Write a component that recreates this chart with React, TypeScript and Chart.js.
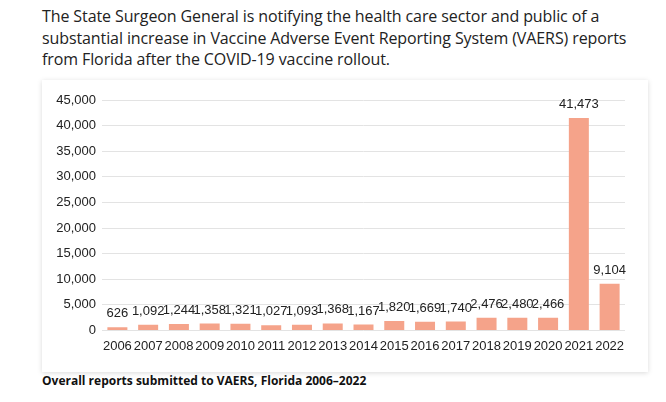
import React, { useEffect, useRef } from "react";
import { Chart, registerables } from "chart.js";

Chart.register(...registerables);

const years = ["2006","2007","2008","2009","2010","2011","2012","2013","2014","2015","2016","2017","2018","2019","2020","2021","2022"];
const reports = [626,1092,1244,1358,1321,1027,1093,1368,1167,1820,1669,1740,2476,2480,2466,41473,9104];
const yTicks = [0,5000,10000,15000,20000,25000,30000,35000,40000,45000];

const fmt = (v: number) => v.toLocaleString("en-US");

const labelPlugin = {
  id: "valueLabels",
  afterDatasetsDraw(chart: any) {
    const ctx = chart.ctx;
    const meta = chart.getDatasetMeta(0);
    ctx.save();
    ctx.font = '13px "Liberation Sans", Arial, sans-serif';
    ctx.fillStyle = "#222";
    ctx.textAlign = "center";
    ctx.textBaseline = "bottom";
    meta.data.forEach((el: any, i: number) => {
      ctx.fillText(fmt(reports[i]), el.x, el.y - 7);
    });
    ctx.restore();
  },
};

export default function App() {
  const ref = useRef<HTMLCanvasElement>(null);
  useEffect(() => {
    if (!ref.current) return;
    const chart = new Chart(ref.current, {
      type: "bar",
      data: {
        labels: years,
        datasets: [{ data: reports, backgroundColor: "#F5A38A", barPercentage: 0.65, categoryPercentage: 1 }],
      },
      options: {
        animation: false,
        responsive: false,
        maintainAspectRatio: false,
        layout: { padding: { left: 0, right: 23, top: 20, bottom: 10 } },
        plugins: { legend: { display: false }, tooltip: { enabled: false } },
        scales: {
          x: {
            grid: { display: false, drawTicks: false },
            border: { display: false },
            ticks: { color: "#222", font: { family: '"Liberation Sans", Arial, sans-serif', size: 13 }, padding: 8, maxRotation: 0, autoSkip: false },
          },
          y: {
            min: 0,
            max: 45000,
            afterBuildTicks: (s: any) => { s.ticks = yTicks.map((v) => ({ value: v })); },
            afterFit: (s: any) => { s.width = 60; },
            grid: { color: "#e3e3e3", drawTicks: false, lineWidth: 1 },
            border: { display: false },
            ticks: { color: "#222", font: { family: '"Liberation Sans", Arial, sans-serif', size: 13 }, padding: 6, callback: (v: any) => fmt(Number(v)) },
          },
        },
      },
      plugins: [labelPlugin],
    });
    return () => chart.destroy();
  }, []);

  return (
    <div style={{ position: "fixed", left: 0, top: 0, width: 666, height: 402, background: "#fff", overflow: "hidden" }}>
      <div style={{ position: "absolute", left: 42, top: 6, width: 600, fontFamily: '"Open Sans", sans-serif', fontSize: 16, letterSpacing: "-0.1px", lineHeight: "21.5px", color: "#222" }}>
        The State Surgeon General is notifying the health care sector and public of a substantial increase in Vaccine Adverse Event Reporting System (VAERS) reports from Florida after the COVID-19 vaccine rollout.
      </div>
      <div style={{ position: "absolute", left: 42, top: 80, width: 606, height: 292, background: "#fff", boxShadow: "0 1px 5px rgba(0,0,0,0.15)" }}>
        <canvas ref={ref} width={606} height={292} style={{ display: "block", width: 606, height: 292 }} />
      </div>
      <div style={{ position: "absolute", left: 42, top: 372, fontFamily: '"Open Sans", sans-serif', fontSize: 12, fontWeight: 700, color: "#111" }}>
        Overall reports submitted to VAERS, Florida 2006–2022
      </div>
    </div>
  );
}
